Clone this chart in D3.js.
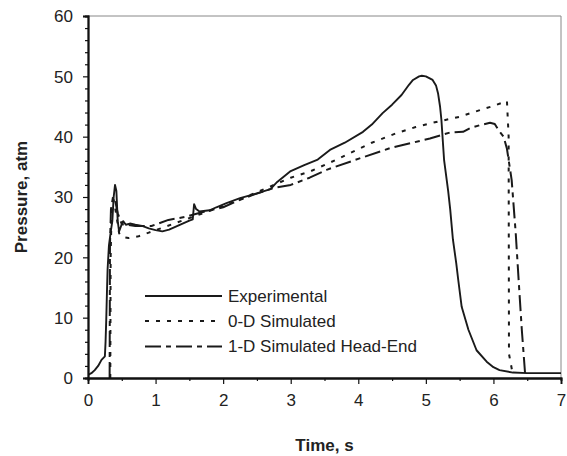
<!DOCTYPE html>
<html><head><meta charset="utf-8">
<script src="https://cdn.jsdelivr.net/npm/d3@7"></script>
<style>body{margin:0;background:#fff;} text{font-family:"Liberation Sans",Arial,sans-serif;fill:#222;}</style>
</head><body><svg id="c" width="567" height="456"></svg>
<script>
const xTicks = [0,1,2,3,4,5,6,7];
const yTicks = [0,10,20,30,40,50,60];
const xMinor = [0.5,1.5,2.5,3.5,4.5,5.5,6.5];
const yMinor = [2,4,6,8,12,14,16,18,22,24,26,28,32,34,36,38,42,44,46,48,52,54,56,58];

const seriesNames = ["Experimental","0-D Simulated","1-D Simulated Head-End"];

const expT = [0,0.05,0.1,0.15,0.2,0.25,0.26,0.27,0.28,0.29,0.31,0.34,0.36,0.38,0.40,0.42,0.44,0.46,0.49,0.52,0.56,0.62,0.7,0.8,0.9,1.0,1.1,1.2,1.3,1.4,1.5,1.55,1.57,1.6,1.65,1.8,1.9,2.05,2.25,2.5,2.7,2.8,3.0,3.2,3.4,3.58,3.8,4.07,4.2,4.36,4.5,4.64,4.75,4.81,4.9,4.94,5.0,5.1,5.15,5.18,5.21,5.23,5.27,5.33,5.36,5.40,5.45,5.48,5.53,5.63,5.75,5.9,6.0,6.09,6.29,6.5,7.0];
const expP = [0.5,0.8,1.3,2.0,3.0,3.6,6,9.6,14,18,22,24.5,26,30,32,31,26,24.3,25.2,26,25.4,25.6,25.4,25.2,24.8,24.5,24.3,24.6,25.1,25.6,26.1,26.3,28.8,28.0,27.6,27.8,28.3,29.0,29.8,30.6,31.3,32.5,34.3,35.3,36.2,37.8,39.0,40.8,42.0,43.9,45.3,46.9,48.6,49.4,50.0,50.1,50.0,49.4,48.5,47.2,45,42.8,36.1,31,28,23,19,16.2,11.8,8.0,4.6,2.7,1.8,1.3,0.9,0.8,0.8];

const sim0T = [0.33,0.335,0.35,0.38,0.42,0.46,0.5,0.6,0.75,0.9,1.1,1.3,1.5,1.75,2.0,2.25,2.5,2.75,3.0,3.3,3.6,3.9,4.2,4.57,4.85,5.1,5.5,5.8,6.0,6.17,6.2,6.225,6.23,6.28,6.32];
const sim0P = [0,20,28,29.5,27,24,23.4,23.2,23.5,24.1,24.9,25.7,26.5,27.5,28.5,29.6,30.8,32.0,33.2,34.3,35.8,37.4,39.0,40.6,41.6,42.3,43.3,44.4,45.1,45.8,45.9,40,4,1,0.5];

const sim1T = [0.32,0.325,0.34,0.37,0.40,0.44,0.5,0.7,0.94,1.19,1.44,1.7,2.0,2.2,2.45,2.75,3.0,3.28,3.53,4.02,4.47,5.06,5.36,5.55,5.65,5.8,5.95,6.02,6.08,6.15,6.2,6.27,6.33,6.38,6.42,6.45,6.47];
const sim1P = [0,22,28,30,29.5,27.3,25.5,25.2,25.2,26.2,26.7,27.5,28.3,29.3,30.4,31.5,32.0,33.2,34.5,36.4,38.1,39.7,40.7,40.8,41.4,41.9,42.3,42.1,41.0,40.0,38,32.8,24,15,8,3.5,0.5];

const L=88,R=561,T=16,B=378;
const svg=d3.select("#c");
const x=d3.scaleLinear().domain([0,7]).range([L,R]);
const y=d3.scaleLinear().domain([0,60]).range([B,T]);

svg.append("defs").append("clipPath").attr("id","clip").append("rect")
  .attr("x",L).attr("y",T).attr("width",R-L).attr("height",B-T);

// frame top/right
svg.append("line").attr("x1",L).attr("x2",R).attr("y1",T).attr("y2",T).attr("stroke","#888").attr("stroke-width",1);
svg.append("line").attr("x1",R).attr("x2",R).attr("y1",T).attr("y2",B).attr("stroke","#888").attr("stroke-width",1);

const mk=(ts,ps)=>ts.map((t,i)=>[t,ps[i]]);
const line=d3.line().x(d=>x(d[0])).y(d=>y(d[1]));
const g=svg.append("g").attr("clip-path","url(#clip)");
const styles=[
  {d:mk(sim1T,sim1P),dash:"16,5,5,5",w:2,c:"#1a1a1a"},
  {d:mk(sim0T,sim0P),dash:"4,7",w:2,c:"#1a1a1a"},
  {d:mk(expT,expP),dash:null,w:1.9,c:"#1a1a1a"}
];
styles.forEach(s=>{
  g.append("path").datum(s.d).attr("d",line).attr("fill","none")
   .attr("stroke",s.c).attr("stroke-width",s.w)
   .attr("stroke-dasharray",s.dash).attr("stroke-linejoin","round");
});

// axes
const ax=svg.append("g").attr("transform",`translate(0,${B})`)
  .call(d3.axisBottom(x).tickValues(xTicks).tickSize(6).tickPadding(10).tickFormat(d3.format("d")));
const axm=svg.append("g").attr("transform",`translate(0,${B})`)
  .call(d3.axisBottom(x).tickValues(xMinor).tickSize(3).tickFormat(""));
const ay=svg.append("g").attr("transform",`translate(${L},0)`)
  .call(d3.axisLeft(y).tickValues(yTicks).tickSize(5).tickPadding(10).tickFormat(d3.format("d")));
const aym=svg.append("g").attr("transform",`translate(${L},0)`)
  .call(d3.axisLeft(y).tickValues(yMinor).tickSize(3).tickFormat(""));
[ax,axm,ay,aym].forEach(a=>{
  a.select(".domain").attr("stroke","#111").attr("stroke-width",1.8);
  a.selectAll(".tick line").attr("stroke","#111").attr("stroke-width",1.2);
  a.selectAll("text").attr("font-size",17).attr("fill","#222")
    .attr("font-family","'Liberation Sans',Arial,sans-serif");
});
ay.selectAll("text").attr("dy","0.35em");

svg.append("text").attr("x",(L+R)/2).attr("y",451).attr("text-anchor","middle")
  .attr("font-size",17).attr("font-weight","bold").text("Time, s");
svg.append("text").attr("transform",`translate(27,${(T+B)/2}) rotate(-90)`)
  .attr("text-anchor","middle").attr("font-size",17).attr("font-weight","bold").text("Pressure, atm");

// legend
const legY=[296,321,346.5];
const legStyles=[styles[2],styles[1],styles[0]];
seriesNames.forEach((n,i)=>{
  svg.append("line").attr("x1",145).attr("x2",222).attr("y1",legY[i]).attr("y2",legY[i])
    .attr("stroke","#1a1a1a").attr("stroke-width",legStyles[i].w).attr("stroke-dasharray",legStyles[i].dash);
  svg.append("text").attr("x",228).attr("y",legY[i]).attr("dy","0.35em")
    .attr("font-size",17).text(n);
});
</script></body></html>
